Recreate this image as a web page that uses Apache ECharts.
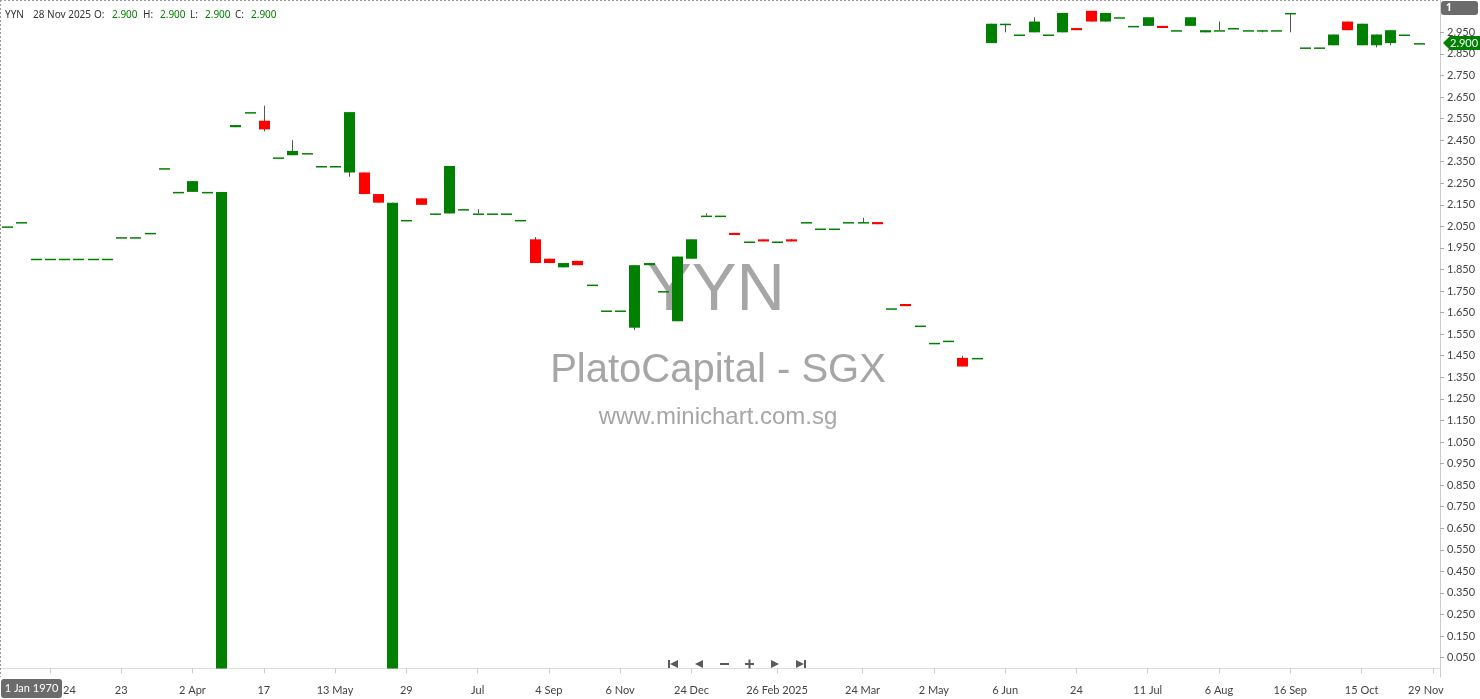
<!DOCTYPE html>
<html>
<head>
<meta charset="utf-8">
<script src="https://cdn.jsdelivr.net/npm/echarts@6.0.0/dist/echarts.min.js"></script>
<style>
  html, body { margin: 0; padding: 0; background: #fff; }
  #chart { width: 1480px; height: 699px; }
</style>
</head>
<body>
<div id="chart"></div>
<script>
// YYN daily candles, oldest -> newest (one slot per traded day)
const opens = [
  2.05, 2.07, 1.90, 1.90, 1.90, 1.90, 1.90, 1.90, 2.00, 2.00,
  2.02, 2.32, 2.21, 2.21, 2.21, 0.00, 2.51, 2.58, 2.54, 2.37,
  2.38, 2.39, 2.33, 2.33, 2.30, 2.30, 2.20, 0.00, 2.08, 2.18,
  2.11, 2.11, 2.13, 2.11, 2.11, 2.11, 2.08, 1.99, 1.90, 1.86,
  1.89, 1.78, 1.66, 1.66, 1.58, 1.87, 1.75, 1.61, 1.90, 2.10,
  2.10, 2.02, 1.98, 1.99, 1.98, 1.99, 2.07, 2.04, 2.04, 2.07,
  2.07, 2.07, 1.67, 1.69, 1.59, 1.51, 1.52, 1.44, 1.44, 2.90,
  2.99, 2.94, 2.95, 2.94, 2.95, 2.97, 3.05, 3.00, 3.02, 2.98,
  2.98, 2.98, 2.96, 2.98, 2.95, 2.96, 2.97, 2.96, 2.96, 2.96,
  3.04, 2.88, 2.88, 2.89, 3.00, 2.89, 2.89, 2.90, 2.94, 2.90
]
const highs = [
  2.05, 2.07, 1.90, 1.90, 1.90, 1.90, 1.90, 1.90, 2.00, 2.00,
  2.02, 2.32, 2.21, 2.26, 2.21, 2.21, 2.52, 2.58, 2.61, 2.37,
  2.45, 2.39, 2.33, 2.33, 2.58, 2.30, 2.20, 2.16, 2.08, 2.18,
  2.11, 2.33, 2.13, 2.13, 2.11, 2.11, 2.08, 2.00, 1.90, 1.88,
  1.89, 1.78, 1.66, 1.66, 1.87, 1.88, 1.75, 1.91, 1.99, 2.11,
  2.10, 2.02, 1.98, 1.99, 1.98, 1.99, 2.07, 2.04, 2.04, 2.07,
  2.09, 2.07, 1.67, 1.69, 1.59, 1.51, 1.52, 1.45, 1.44, 2.99,
  2.99, 2.94, 3.02, 2.94, 3.04, 2.97, 3.05, 3.04, 3.02, 2.98,
  3.02, 2.98, 2.96, 3.02, 2.96, 3.00, 2.97, 2.96, 2.96, 2.96,
  3.04, 2.88, 2.88, 2.94, 3.00, 2.99, 2.94, 2.96, 2.94, 2.90
]
const lows = [
  2.05, 2.07, 1.90, 1.90, 1.90, 1.90, 1.90, 1.90, 2.00, 2.00,
  2.02, 2.32, 2.21, 2.21, 2.21, 0.00, 2.51, 2.58, 2.49, 2.37,
  2.38, 2.39, 2.33, 2.33, 2.28, 2.20, 2.16, 0.00, 2.08, 2.15,
  2.11, 2.11, 2.13, 2.11, 2.11, 2.11, 2.08, 1.88, 1.88, 1.86,
  1.87, 1.78, 1.66, 1.66, 1.57, 1.87, 1.75, 1.61, 1.90, 2.10,
  2.10, 2.01, 1.98, 1.98, 1.98, 1.98, 2.07, 2.04, 2.04, 2.07,
  2.07, 2.06, 1.67, 1.68, 1.59, 1.51, 1.52, 1.40, 1.44, 2.90,
  2.95, 2.94, 2.95, 2.94, 2.95, 2.96, 3.00, 3.00, 3.02, 2.98,
  2.98, 2.97, 2.96, 2.98, 2.95, 2.96, 2.97, 2.96, 2.95, 2.96,
  2.95, 2.88, 2.88, 2.89, 2.96, 2.89, 2.88, 2.89, 2.94, 2.90
]
const closes = [
  2.05, 2.07, 1.90, 1.90, 1.90, 1.90, 1.90, 1.90, 2.00, 2.00,
  2.02, 2.32, 2.21, 2.26, 2.21, 2.21, 2.52, 2.58, 2.50, 2.37,
  2.40, 2.39, 2.33, 2.33, 2.58, 2.20, 2.16, 2.16, 2.08, 2.15,
  2.11, 2.33, 2.13, 2.11, 2.11, 2.11, 2.08, 1.88, 1.88, 1.88,
  1.87, 1.78, 1.66, 1.66, 1.87, 1.88, 1.75, 1.91, 1.99, 2.10,
  2.10, 2.01, 1.98, 1.98, 1.98, 1.98, 2.07, 2.04, 2.04, 2.07,
  2.07, 2.06, 1.67, 1.68, 1.59, 1.51, 1.52, 1.40, 1.44, 2.99,
  2.99, 2.94, 3.00, 2.94, 3.04, 2.96, 3.00, 3.04, 3.02, 2.98,
  3.02, 2.97, 2.96, 3.02, 2.96, 2.96, 2.97, 2.96, 2.96, 2.96,
  3.04, 2.88, 2.88, 2.94, 2.96, 2.99, 2.94, 2.96, 2.94, 2.90
]

// date labels on the time axis (slot index -> text); slot 100 is the empty slot after the last bar
const tickIdx = [3, 8, 13, 18, 23, 28, 33, 38, 43, 48, 54, 60, 65, 70, 75, 80, 85, 90, 95, 100]
const tickText = ['24', '23', '2 Apr', '17', '13 May', '29', 'Jul', '4 Sep', '6 Nov', '24 Dec',
  '26 Feb 2025', '24 Mar', '2 May', '6 Jun', '24', '11 Jul', '6 Aug', '16 Sep', '15 Oct', '29 Nov']

// price scale labels
const priceTicks = [0.05, 0.15, 0.25, 0.35, 0.45, 0.55, 0.65, 0.75, 0.85, 0.95,
  1.05, 1.15, 1.25, 1.35, 1.45, 1.55, 1.65, 1.75, 1.85, 1.95,
  2.05, 2.15, 2.25, 2.35, 2.45, 2.55, 2.65, 2.75, 2.85, 2.95]

const SYMBOL = 'YYN'
const LAST_DATE = '28 Nov 2025'
const UP = '#008000'
const DOWN = '#ff0000'
const WICK = '#555555'
const AXIS_FONT = 'Lato, "Noto Sans", sans-serif'

const slots = []
for (let i = 0; i <= opens.length; i++) slots.push(String(i))

const candles = opens.map((o, i) => [i, o, closes[i], lows[i], highs[i]])

const renderCandle = (params, api) => {
  const i = api.value(0)
  const o = api.value(1)
  const c = api.value(2)
  const l = api.value(3)
  const h = api.value(4)
  const top = api.coord([i, Math.max(o, c)])
  const bot = api.coord([i, Math.min(o, c)])
  const hi = api.coord([i, h])
  const lo = api.coord([i, l])
  const w = Math.round(api.size([1, 0])[0] * 0.77)
  const cx = Math.round(top[0])
  const bh = Math.max(bot[1] - top[1], 1.5)
  return {
    type: 'group',
    children: [
      {
        type: 'line',
        shape: { x1: cx + 0.5, y1: hi[1], x2: cx + 0.5, y2: lo[1] },
        style: { stroke: WICK, lineWidth: 1 }
      },
      {
        type: 'rect',
        shape: { x: cx - Math.floor(w / 2), y: top[1], width: w, height: bh },
        style: { fill: c >= o ? UP : DOWN }
      }
    ]
  }
}

const chart = echarts.init(document.getElementById('chart'))

chart.setOption({
  animation: false,
  backgroundColor: '#ffffff',
  grid: { left: 0, right: 40, top: 0, bottom: 22, containLabel: false },
  xAxis: {
    type: 'category',
    data: slots,
    boundaryGap: true,
    axisLine: { show: true, lineStyle: { color: '#dddddd' } },
    axisTick: {
      show: true,
      alignWithLabel: true,
      length: 5,
      interval: (i) => tickIdx.indexOf(i) >= 0,
      lineStyle: { color: '#cccccc' }
    },
    axisLabel: {
      interval: (i) => tickIdx.indexOf(i) >= 0,
      margin: 8,
      color: '#444444',
      fontSize: 11,
      fontFamily: AXIS_FONT,
      formatter: (v, i) => {
        const k = tickIdx.indexOf(i)
        if (k < 0) return ''
        if (k === 0) return '{first|' + tickText[k] + '}'
        if (k === tickIdx.length - 1) return '{last|' + tickText[k] + '}'
        return tickText[k]
      },
      rich: {
        first: { padding: [0, 0, 0, 39], color: '#444444', fontSize: 11, fontFamily: AXIS_FONT },
        last: { padding: [0, 14, 0, 0], color: '#444444', fontSize: 11, fontFamily: AXIS_FONT }
      }
    },
    splitLine: { show: false }
  },
  yAxis: {
    type: 'value',
    position: 'right',
    min: -0.04,
    max: 3.1,
    scale: false,
    axisLine: { show: true, lineStyle: { color: '#cccccc' } },
    axisTick: {
      show: true,
      length: 4,
      customValues: priceTicks,
      lineStyle: { color: '#aaaaaa' }
    },
    axisLabel: {
      customValues: priceTicks,
      margin: 7,
      color: '#444444',
      fontSize: 11,
      fontFamily: AXIS_FONT,
      formatter: (v) => v.toFixed(3)
    },
    splitLine: { show: false }
  },
  series: [
    {
      name: SYMBOL,
      type: 'custom',
      z: 5,
      clip: true,
      renderItem: renderCandle,
      encode: { x: 0, y: [1, 2, 3, 4] },
      data: candles
    }
  ]
})

// overlays: header, watermark, nav buttons, price tag
const last = opens.length - 1
const lastY = chart.convertToPixel({ yAxisIndex: 0 }, closes[last])
const hdrFont = '10px "Noto Sans", sans-serif'
const hdr = (x, text, color) => ({
  type: 'text', x, y: 15, z: 20,
  style: { text, fill: color, font: hdrFont, textVerticalAlign: 'middle' }
})
const navColor = '#5a5a5a'
const navY = 664

chart.setOption({
  graphic: [
    // frame
    { type: 'line', z: 1, shape: { x1: 0, y1: 0.5, x2: 1440, y2: 0.5 },
      style: { stroke: '#999999', lineWidth: 1, lineDash: [2, 2] } },
    { type: 'line', z: 1, shape: { x1: 0.5, y1: 0, x2: 0.5, y2: 677 },
      style: { stroke: '#999999', lineWidth: 1, lineDash: [2, 2] } },
    // watermark
    { type: 'text', x: 716, y: 292, z: 0,
      style: { text: SYMBOL, fill: '#a6a6a6', font: '67px "Liberation Sans", Arial, sans-serif',
        textAlign: 'center', textVerticalAlign: 'middle' } },
    { type: 'text', x: 718, y: 371, z: 0,
      style: { text: 'PlatoCapital - SGX', fill: '#a6a6a6', font: '40px "Liberation Sans", Arial, sans-serif',
        textAlign: 'center', textVerticalAlign: 'middle' } },
    { type: 'text', x: 718, y: 417, z: 0,
      style: { text: 'www.minichart.com.sg', fill: '#a6a6a6', font: '24px "Liberation Sans", Arial, sans-serif',
        textAlign: 'center', textVerticalAlign: 'middle' } },
    // header
    hdr(5, SYMBOL, '#333333'),
    hdr(33, LAST_DATE, '#333333'),
    hdr(94, 'O:', '#333333'),
    hdr(112, opens[last].toFixed(3), UP),
    hdr(143, 'H:', '#333333'),
    hdr(160, highs[last].toFixed(3), UP),
    hdr(190, 'L:', '#333333'),
    hdr(205, lows[last].toFixed(3), UP),
    hdr(235, 'C:', '#333333'),
    hdr(251, closes[last].toFixed(3), UP),
    // navigation buttons
    { type: 'rect', z: 20, shape: { x: 668, y: navY - 4, width: 2, height: 8 }, style: { fill: navColor } },
    { type: 'polygon', z: 20, shape: { points: [[670, navY], [678, navY - 4], [678, navY + 4]] }, style: { fill: navColor } },
    { type: 'polygon', z: 20, shape: { points: [[695, navY], [703, navY - 4], [703, navY + 4]] }, style: { fill: navColor } },
    { type: 'rect', z: 20, shape: { x: 720, y: navY - 1, width: 9, height: 2 }, style: { fill: navColor } },
    { type: 'rect', z: 20, shape: { x: 745, y: navY - 1, width: 9, height: 2 }, style: { fill: navColor } },
    { type: 'rect', z: 20, shape: { x: 748.5, y: navY - 4.5, width: 2, height: 9 }, style: { fill: navColor } },
    { type: 'polygon', z: 20, shape: { points: [[779, navY], [771, navY - 4], [771, navY + 4]] }, style: { fill: navColor } },
    { type: 'polygon', z: 20, shape: { points: [[804, navY], [796, navY - 4], [796, navY + 4]] }, style: { fill: navColor } },
    { type: 'rect', z: 20, shape: { x: 804, y: navY - 4, width: 2, height: 8 }, style: { fill: navColor } },
    // corner boxes
    { type: 'rect', z: 20, shape: { x: 1441, y: 1, width: 37, height: 14, r: 3 }, style: { fill: '#6b6b6b' } },
    { type: 'text', z: 21, x: 1446, y: 8,
      style: { text: '1', fill: '#ffffff', font: 'bold 10px "Noto Sans", sans-serif', textVerticalAlign: 'middle' } },
    { type: 'rect', z: 20, shape: { x: 1, y: 679, width: 61, height: 19, r: 3 }, style: { fill: '#6b6b6b' } },
    { type: 'text', z: 21, x: 31.5, y: 688.5,
      style: { text: '1 Jan 1970', fill: '#ffffff', font: '11px ' + AXIS_FONT, textAlign: 'center', textVerticalAlign: 'middle' } },
    // last price tag
    { type: 'polygon', z: 20,
      shape: { points: [[1443, lastY], [1450, lastY - 7], [1480, lastY - 7], [1480, lastY + 7], [1450, lastY + 7]] },
      style: { fill: UP } },
    { type: 'text', z: 21, x: 1450, y: lastY,
      style: { text: closes[last].toFixed(3), fill: '#ffffff', font: '11px ' + AXIS_FONT, textVerticalAlign: 'middle' } }
  ]
})

window.addEventListener('resize', () => chart.resize())
</script>
</body>
</html>
